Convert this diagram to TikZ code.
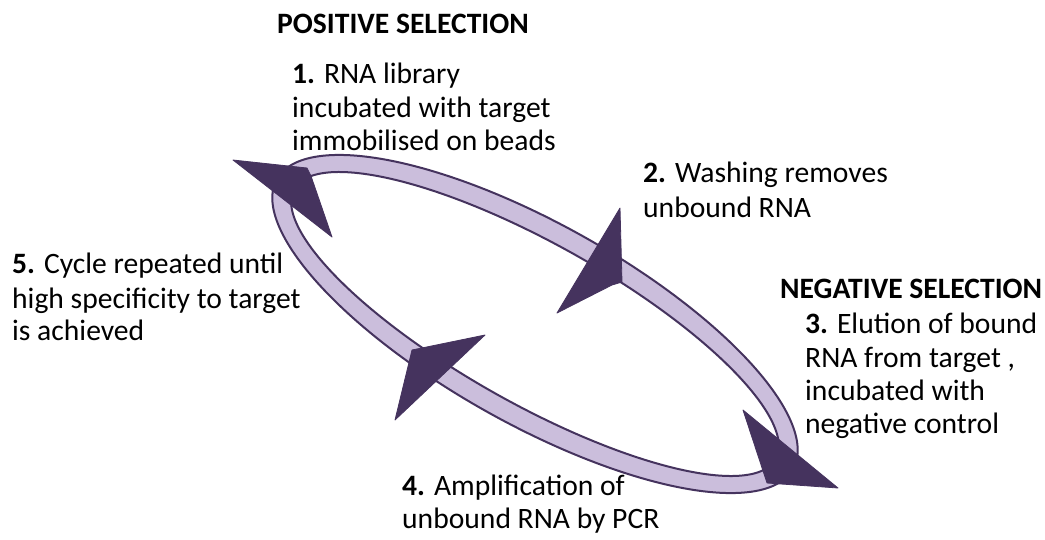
\documentclass[tikz,border=0pt]{standalone}
\usepackage{fontspec}
\setmainfont{Carlito}
\definecolor{ringfill}{HTML}{CBBEDC}
\definecolor{ringdark}{HTML}{45335E}
\begin{document}
\begin{tikzpicture}[x=1pt,y=-1pt,
  txt/.style={anchor=base west, inner sep=0pt, font=\fontsize{29.6}{34}\selectfont},
  ringline/.style={draw=ringdark, line width=2pt},
  head/.style={fill=ringdark, draw=ringdark, line width=0.8pt, line join=round}]
\useasboundingbox (0,0) rectangle (1045,539);
% ring
\filldraw[ringline, fill=ringfill] plot[domain=0:360,samples=241]
  ({535+296*cos(\x)*cos(29.3)-100*sin(\x)*sin(29.3)},{324+296*cos(\x)*sin(29.3)+100*sin(\x)*cos(29.3)}) -- cycle;
\filldraw[ringline, fill=white] plot[domain=0:360,samples=241]
  ({535+276*cos(\x)*cos(29.3)-80*sin(\x)*sin(29.3)},{324+276*cos(\x)*sin(29.3)+80*sin(\x)*cos(29.3)}) -- cycle;
% arrowheads
\filldraw[head] (233,160) -- (307,168) -- (311,176) -- (332,237) -- cycle;
\filldraw[head] (620,208) -- (622,282) -- (612,285) -- (557,313) -- cycle;
\filldraw[head] (743,410) -- (838,488) -- (767,483) -- cycle;
\filldraw[head] (485,335) -- (412,350) -- (395,420) -- cycle;
% texts
\node[txt] (pos) at (277,33) {\textbf{POSITIVE SELECTION}};
\node[txt] (t1a) at (292,83) {\textbf{1.} RNA library};
\node[txt] (t1b) at (292,117) {incubated with target};
\node[txt] (t1c) at (292,150) {immobilised on beads};
\node[txt] (t2a) at (643,182) {\textbf{2.} Washing removes};
\node[txt] (t2b) at (643,217) {unbound RNA};
\node[txt] (neg) at (780,298) {\textbf{NEGATIVE SELECTION}};
\node[txt] (t3a) at (805,333) {\textbf{3.} Elution of bound};
\node[txt] (t3b) at (805,367) {RNA from target ,};
\node[txt] (t3c) at (805,400) {incubated with};
\node[txt] (t3d) at (805,433) {negative control};
\node[txt] (t4a) at (402,495) {\textbf{4.} Amplification of};
\node[txt] (t4b) at (402,528) {unbound RNA by PCR};
\node[txt] (t5a) at (12,273) {\textbf{5.} Cycle repeated until};
\node[txt] (t5b) at (12,308) {high specificity to target};
\node[txt] (t5c) at (12,340) {is achieved};
\end{tikzpicture}
\end{document}
